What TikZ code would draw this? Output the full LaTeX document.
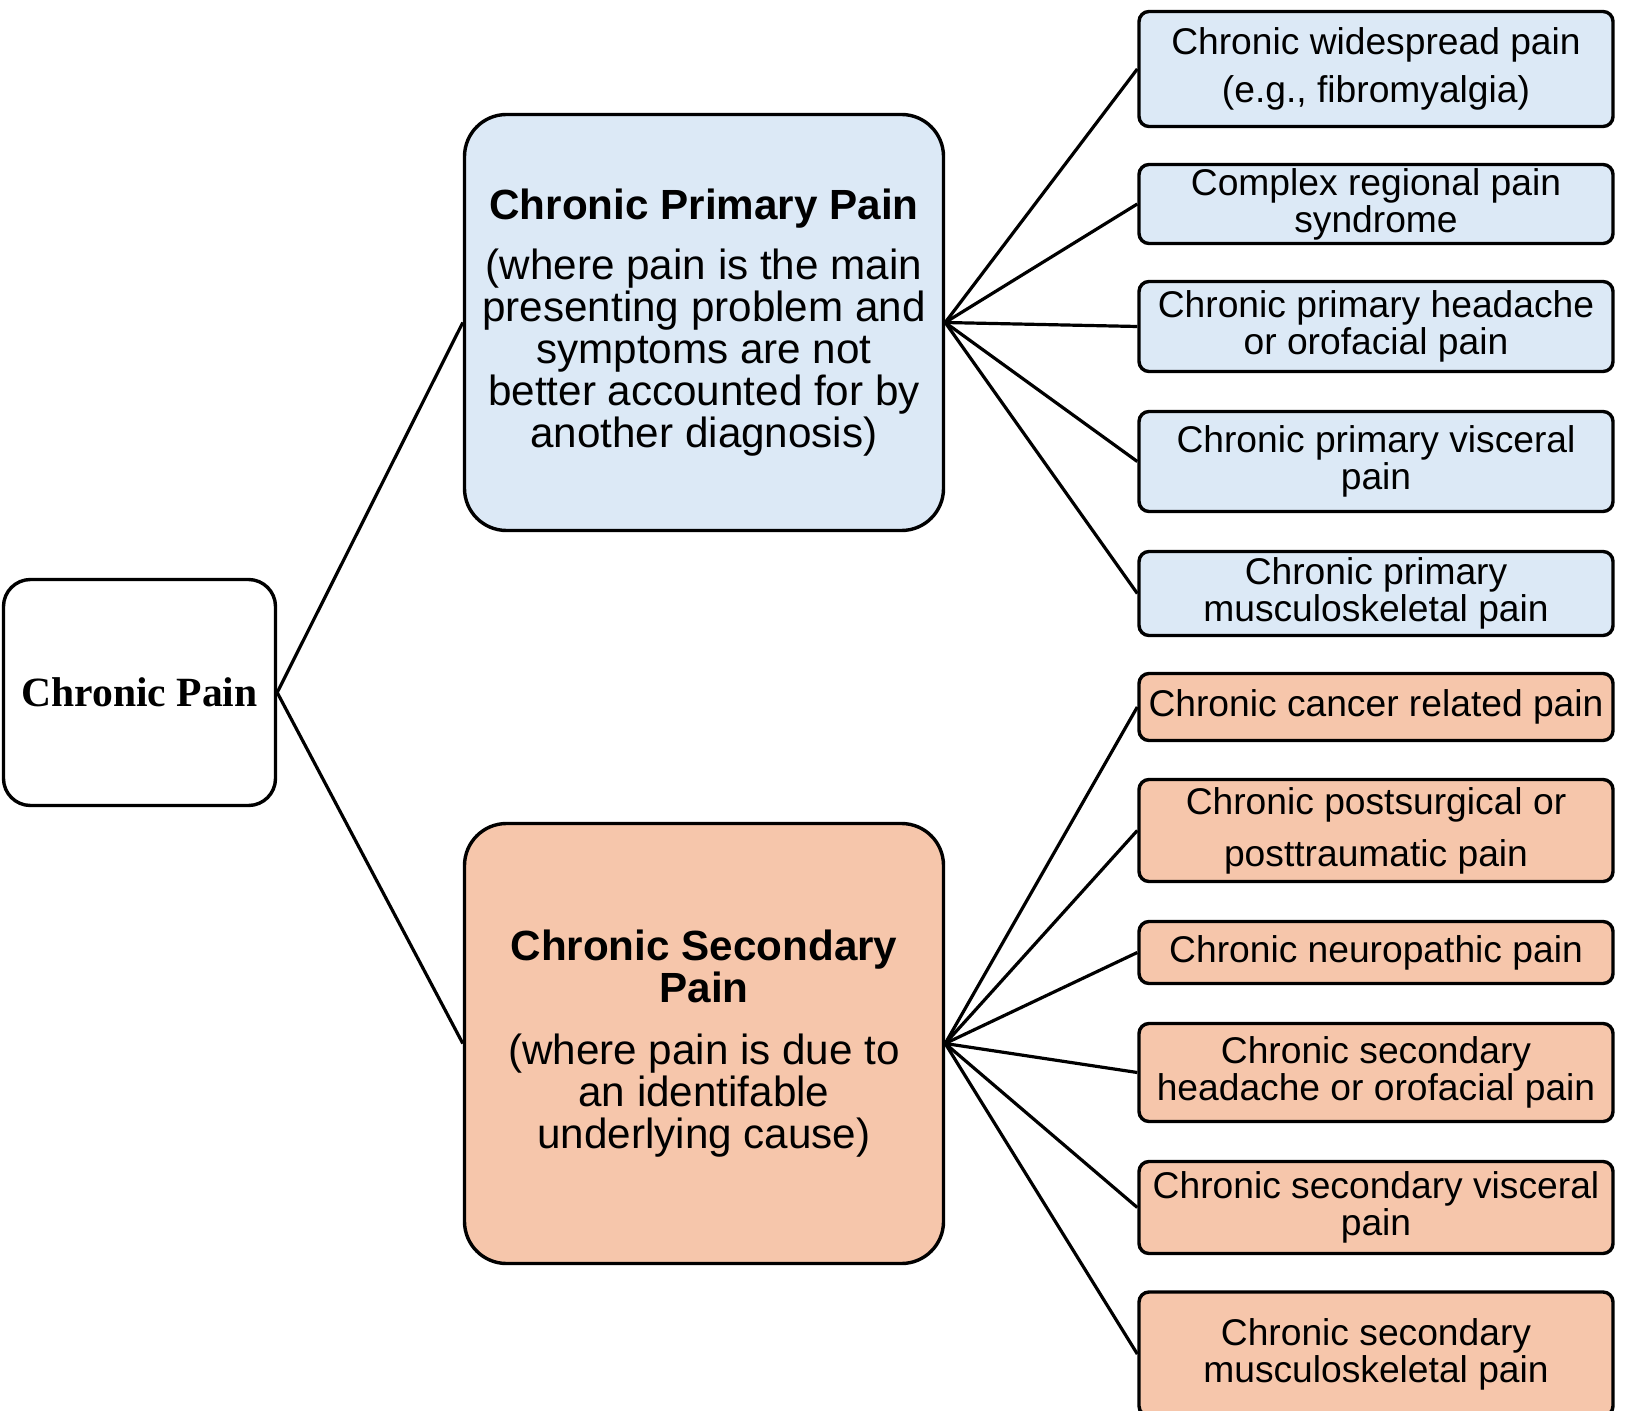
\documentclass[tikz,border=0pt]{standalone}
\usepackage{fontspec}
\setmainfont{Liberation Sans}
\newfontfamily\rootserif{Liberation Serif}
\usepackage{tikz}
\usetikzlibrary{positioning}
\definecolor{primaryblue}{HTML}{DCE9F6}
\definecolor{secondarypeach}{HTML}{F6C6AB}

\tikzset{
  painbox/.style={draw=black, line width=1.7pt, align=center, inner sep=0pt},
  leafbox/.style={painbox, rounded corners=5pt, minimum width=237pt, font=\fontsize{18.6}{18.6}\selectfont},
  groupbox/.style={painbox, rounded corners=21pt, minimum width=239.5pt, font=\fontsize{21.1}{21}\selectfont},
  link/.style={black, line width=1.6pt}
}

\begin{document}
\begin{tikzpicture}[x=0.5pt, y=-0.5pt]
  \useasboundingbox (0,0) rectangle (1626,1411);
  \clip (0,0) rectangle (1626,1411);

  % root
  \node[painbox, fill=white, rounded corners=13.5pt, minimum width=136pt, minimum height=113pt,
        font=\rootserif\bfseries\fontsize{20.8}{20.8}\selectfont] (root) at (139.5,692.5) {Chronic Pain};

  % the two main groups
  \node[groupbox, fill=primaryblue, minimum height=208pt] (primary) at (704,322.5)
    {\textbf{Chronic Primary Pain}\\[9pt]
     (where pain is the main\\ presenting problem and\\ symptoms are not\\
     better accounted for by\\ another diagnosis)};
  \node[groupbox, fill=secondarypeach, minimum height=220pt] (secondary) at (704,1043.5)
    {\textbf{Chronic Secondary}\\ \textbf{Pain}\\[10pt]
     (where pain is due to\\ an identifable\\ underlying cause)};

  % primary subtypes
  \node[leafbox, fill=primaryblue, minimum height=57.5pt, font=\fontsize{18.6}{24}\selectfont] (widespread) at (1376,69)
    {Chronic widespread pain\\(e.g., fibromyalgia)};
  \node[leafbox, fill=primaryblue, minimum height=39.5pt] (regional) at (1376,204)
    {Complex regional pain\\syndrome};
  \node[leafbox, fill=primaryblue, minimum height=45pt] (headacheP) at (1376,326.5)
    {Chronic primary headache\\or orofacial pain};
  \node[leafbox, fill=primaryblue, minimum height=50pt] (visceralP) at (1376,461.5)
    {Chronic primary visceral\\pain};
  \node[leafbox, fill=primaryblue, minimum height=42pt] (muscleP) at (1376,593.5)
    {Chronic primary\\musculoskeletal pain};

  % secondary subtypes
  \node[leafbox, fill=secondarypeach, minimum height=33.5pt] (cancer) at (1376,707)
    {Chronic cancer related pain};
  \node[leafbox, fill=secondarypeach, minimum height=51pt, font=\fontsize{18.6}{26}\selectfont] (surgical) at (1376,830.5)
    {Chronic postsurgical or\\posttraumatic pain};
  \node[leafbox, fill=secondarypeach, minimum height=31pt] (neuro) at (1376,952.5)
    {Chronic neuropathic pain};
  \node[leafbox, fill=secondarypeach, minimum height=49pt] (headacheS) at (1376,1072.5)
    {Chronic secondary\\headache or orofacial pain};
  \node[leafbox, fill=secondarypeach, minimum height=46pt] (visceralS) at (1376,1207.5)
    {Chronic secondary visceral\\pain};
  \node[leafbox, fill=secondarypeach, minimum height=62pt] (muscleS) at (1376,1354)
    {Chronic secondary\\musculoskeletal pain};

  % connectors
  \draw[link] (root.east) -- (primary.west);
  \draw[link] (root.east) -- (secondary.west);

  \draw[link] (primary.east) -- (widespread.west);
  \draw[link] (primary.east) -- (regional.west);
  \draw[link] (primary.east) -- (headacheP.west);
  \draw[link] (primary.east) -- (visceralP.west);
  \draw[link] (primary.east) -- (muscleP.west);

  \draw[link] (secondary.east) -- (cancer.west);
  \draw[link] (secondary.east) -- (surgical.west);
  \draw[link] (secondary.east) -- (neuro.west);
  \draw[link] (secondary.east) -- (headacheS.west);
  \draw[link] (secondary.east) -- (visceralS.west);
  \draw[link] (secondary.east) -- (muscleS.west);
\end{tikzpicture}
\end{document}
